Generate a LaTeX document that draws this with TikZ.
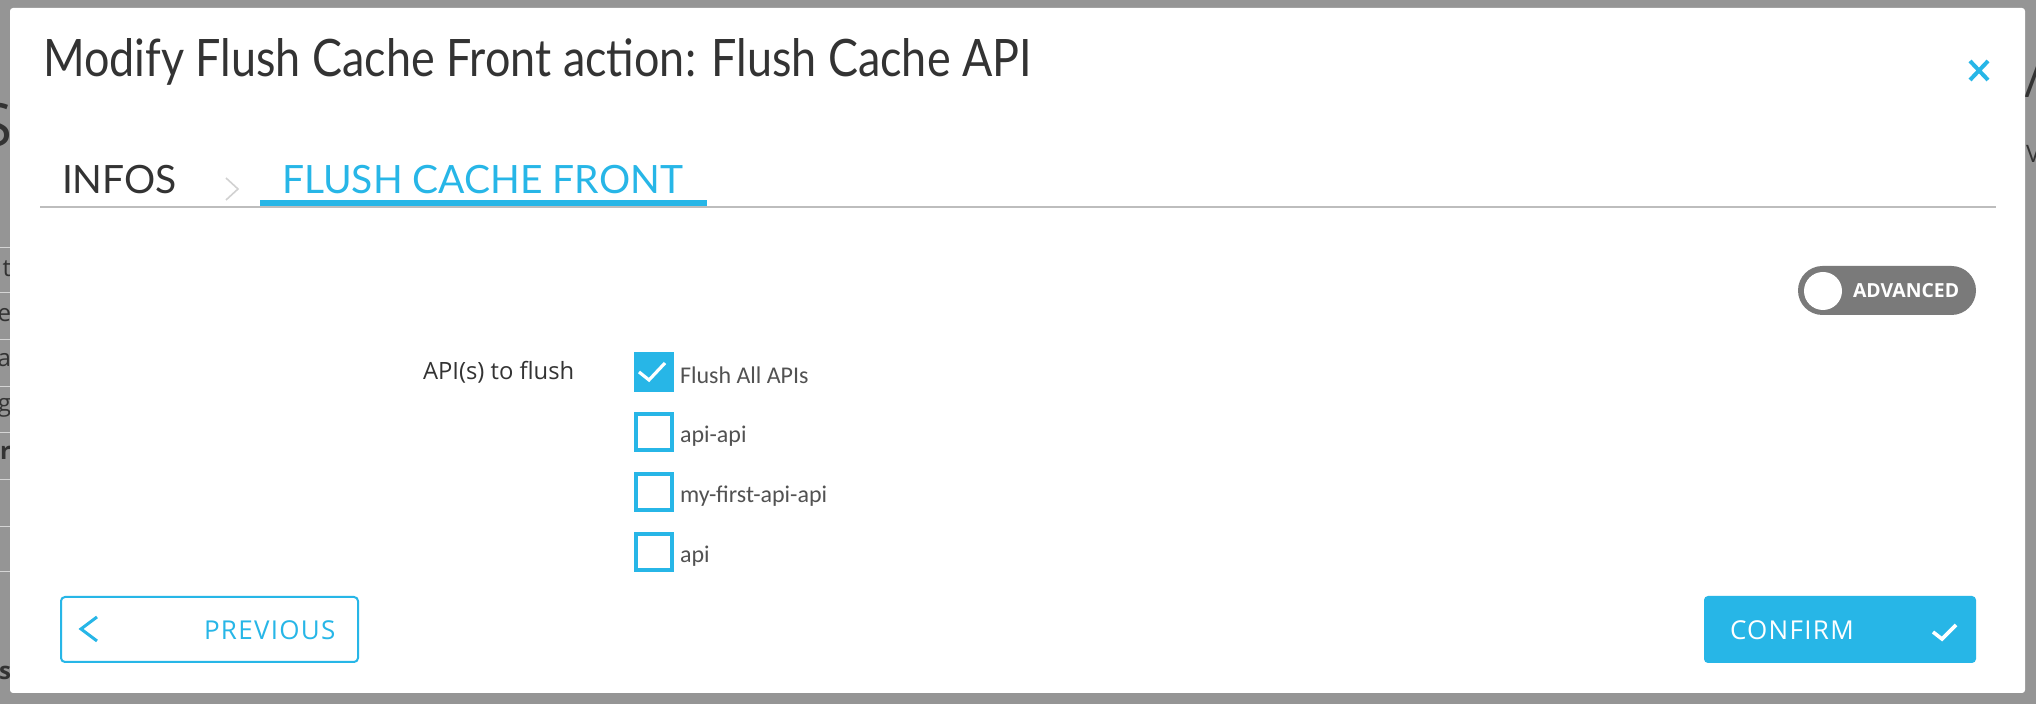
\documentclass[tikz,border=0pt]{standalone}
\usepackage{fontspec}
\setmainfont{Lato}
\newfontfamily\uifont{Open Sans}
\newfontfamily\lightfont{Carlito}
\definecolor{uicyan}{HTML}{27B6E7}
\definecolor{uitext}{HTML}{333333}
\definecolor{uiline}{HTML}{BDBDBD}
\definecolor{uiback}{HTML}{959595}
\definecolor{uitoggle}{HTML}{7A7A7A}
\tikzset{every node/.style={inner sep=0pt,outer sep=0pt},
  tab/.style={anchor=base west,font=\fontsize{19.5}{20}\selectfont},
  opt/.style={anchor=base west,font=\lightfont\fontsize{12}{12}\selectfont,text=uitext!85},
  chkbox/.style={draw=uicyan,line width=2pt,minimum size=18pt},
  btn/.style={rounded corners=2pt,line width=1pt,minimum width=148.5pt,minimum height=32.5pt},
  btntext/.style={anchor=base west,font=\uifont\fontsize{13}{13}\selectfont\addfontfeatures{LetterSpace=5}}}

\begin{document}
\begin{tikzpicture}[x=0.5pt,y=-0.5pt]
  \useasboundingbox (0,0) rectangle (2036,704);
  % page behind the dialog
  \fill[uiback] (0,0) rectangle (2036,704);
  \foreach \y in {248,293,340,387,433,480,527,572}
    \draw[white!60!uiback,line width=0.5pt] (0,\y) -- (12,\y);
  \node[anchor=base east,font=\uifont\fontsize{30}{30}\selectfont,text=uitext] (bgS) at (12,147) {S};
  \foreach \n/\y/\t in {1/277/t,2/322/e,3/367/a,4/412/g,5/460/\textbf{r},6/680/\textbf{s}}
    \node[anchor=base east,font=\uifont\fontsize{12}{12}\selectfont,text=uitext] (bg\n) at (11,\y) {\t};
  \node[anchor=base west,font=\uifont\fontsize{24}{24}\selectfont,text=uitext] (bgR) at (2024,98) {/(};
  \node[anchor=base west,font=\uifont\fontsize{12}{12}\selectfont,text=uitext] (bgV) at (2026,163) {V};

  % dialog
  \fill[white,rounded corners=1.5pt] (10,8) rectangle (2025,693);
  \node[anchor=base west,font=\fontsize{25.8}{26}\selectfont,text=uitext,xscale=0.87,transform shape] (title) at (43,77)
    {Modify Flush Cache Front action: Flush Cache API};
  \draw[uicyan,line width=2pt] (1970,61) -- (1988,80) (1988,61) -- (1970,80);

  % tabs
  \node[tab,text=uitext] (infos) at (62,194) {INFOS};
  \draw[uiline!70,line width=0.8pt] (226,178) -- (238,189) -- (226,200);
  \node[tab,text=uicyan] (front) at (282,194) {FLUSH CACHE FRONT};
  \draw[uiline,line width=1pt] (40,207) -- (1996,207);
  \fill[uicyan] (260,200) rectangle (707,206);

  % advanced toggle
  \node[fill=uitoggle,rounded corners=12.25pt,minimum width=89pt,minimum height=24.5pt] (toggle) at (1887,290.5) {};
  \fill[white] (1823,291) circle (9.5pt);
  \node[anchor=base west,font=\uifont\bfseries\fontsize{9.7}{10}\selectfont,text=white] (adv) at (1853,298) {ADVANCED};

  % options
  \node[anchor=base west,font=\uifont\fontsize{11.9}{12}\selectfont,text=uitext] (apis) at (423,380) {API(s) to flush};
  \node[chkbox,fill=uicyan] (chk1) at (654,372) {};
  \draw[white,line width=1.6pt] (639,372) -- (649,380) -- (665,363);
  \node[opt] (opt1) at (680,384) {Flush All APIs};
  \foreach \n/\y/\t in {2/432/api-api,3/492/my-first-api-api,4/552/api}{
    \node[chkbox] (chk\n) at (654,\y) {};
    \node[opt] (opt\n) at (680,\y+11) {\t};
  }

  % buttons
  \node[btn,draw=uicyan] (prev) at (209.5,629.5) {};
  \draw[uicyan,line width=1.5pt] (97,617) -- (81,629) -- (97,641);
  \node[btntext,text=uicyan] (prevtext) at (204,640) {PREVIOUS};
  \node[btn,fill=uicyan,minimum width=136pt,minimum height=33.5pt,line width=0pt] (confirm) at (1840,629.5) {};
  \node[btntext,text=white] (conftext) at (1730,640) {CONFIRM};
  \draw[white,line width=1.8pt] (1933,632) -- (1942,639) -- (1956,625);
\end{tikzpicture}
\end{document}
